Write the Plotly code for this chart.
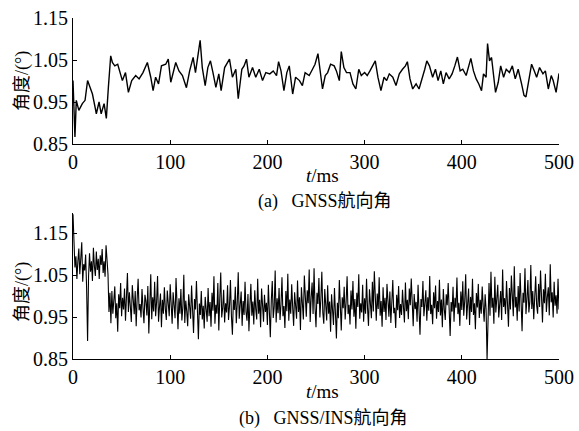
import numpy as np
import plotly.graph_objects as go

# ---------------- data ----------------
# (a) GNSS heading angle: time (ms) and angle (deg)
gnss_t = [0, 2, 3.4, 6, 9.6, 12.4, 15, 17, 20, 22.7, 24, 26.8, 29, 32, 34.3, 36.4, 38.8,
          40.5, 43, 46, 48, 50.8, 54, 57, 60.4, 64.5, 68, 72, 76.5, 80, 82.4, 85, 88, 91,
          95.4, 98, 100.6, 103, 105.7, 109, 112.6, 116.7, 120, 123.6, 126, 129, 130.8, 133,
          136, 138.7, 141.4, 144, 147, 150, 152.4, 156, 158.6, 161, 164, 167.5, 170, 173.7,
          176, 178.5, 181, 184.7, 188, 191.6, 195, 198.4, 202.5, 206, 209.4, 211.5, 214, 217,
          220, 222.5, 226, 229, 233, 236, 238.8, 243, 246.4, 249, 252, 254.6, 256.7, 259.5,
          262, 265, 268.7, 271, 274, 276, 278.7, 281.4, 285, 288, 291, 294, 296.6, 300, 302.7,
          305.5, 308, 311, 313.7, 316.8, 320, 322.7, 325.4, 329, 332.3, 335.7, 339, 342, 344,
          346.7, 349.5, 353, 356, 359.8, 361.9, 364, 366.7, 370, 372.9, 375.6, 378.4, 381,
          383.8, 387, 390, 392.8, 395.5, 398.3, 401, 404.5, 407.2, 409.3, 412, 414.8, 417.5,
          420.3, 422.3, 425, 426.5, 428.5, 430.6, 432.6, 434.7, 437.5, 440, 443, 445.7, 449,
          452, 455, 458, 461.5, 464, 466, 469, 471.8, 474.6, 477, 480, 483.5, 486, 489, 492,
          494, 497, 500]
gnss_angle = [1.001, 0.867, 0.954, 0.930, 0.946, 0.954, 1.001, 0.990, 0.969, 0.938, 0.922,
              0.950, 0.922, 0.946, 0.911, 0.985, 1.060, 1.044, 1.036, 1.040, 1.024, 1.001,
              1.020, 0.973, 1.001, 1.013, 1.005, 1.020, 1.044, 1.009, 0.977, 1.009, 0.993,
              1.036, 1.040, 1.052, 0.997, 1.020, 1.044, 1.024, 1.013, 0.984, 1.024, 1.056,
              1.020, 1.068, 1.097, 1.032, 0.989, 1.032, 1.048, 1.020, 0.985, 1.017, 0.977,
              1.032, 1.044, 1.052, 1.009, 1.028, 0.958, 1.028, 1.036, 1.052, 1.009, 1.032,
              1.009, 1.028, 1.001, 1.020, 1.017, 1.024, 1.013, 1.046, 1.024, 0.977, 1.020,
              1.036, 0.969, 1.009, 1.001, 0.989, 1.020, 1.013, 1.028, 1.040, 1.065, 1.017,
              0.981, 1.013, 1.020, 1.040, 1.036, 1.024, 1.001, 1.070, 1.032, 1.020, 1.020,
              0.993, 0.981, 1.028, 1.013, 1.020, 1.013, 1.024, 1.036, 1.048, 1.009, 0.977,
              1.009, 1.001, 1.017, 1.009, 0.989, 1.017, 1.028, 1.036, 1.046, 1.005, 0.981,
              0.993, 0.981, 1.009, 1.028, 1.048, 1.036, 1.009, 1.028, 1.001, 1.024, 0.993,
              1.020, 1.005, 1.017, 1.036, 1.057, 1.024, 1.028, 1.013, 1.036, 1.054, 1.024,
              1.005, 0.993, 0.977, 1.017, 1.009, 1.089, 1.048, 1.056, 1.009, 0.973, 0.997,
              1.036, 1.009, 1.028, 1.020, 1.036, 1.005, 1.028, 0.993, 0.966, 0.962, 1.001,
              1.040, 1.024, 1.009, 1.032, 1.017, 1.024, 0.981, 1.013, 1.001, 0.973, 1.018]

# (b) GNSS/INS heading angle, one sample per ms from 0 to 500 ms
ins_angle = [
    1.195, 1.142, 1.068, 1.095, 1.041, 1.082, 1.113, 1.052, 1.089, 1.128, 1.034, 1.076, 1.061, 1.099, 1.018, 0.893, 1.047, 1.102, 1.058, 1.083,
    1.036, 1.115, 1.071, 1.048, 1.106, 1.062, 1.089, 1.041, 1.097, 1.074, 1.112, 1.055, 1.083, 1.046, 1.121, 1.078, 1.052, 0.962, 1.008, 0.935,
    1.012, 0.958, 0.991, 1.023, 0.947, 0.983, 0.915, 1.004, 0.971, 1.031, 0.952, 0.996, 0.968, 1.018, 0.941, 0.987, 1.055, 0.962, 1.009, 0.975,
    0.938, 1.026, 0.984, 0.957, 1.012, 0.928, 0.993, 1.041, 0.966, 0.981, 0.949, 1.017, 0.972, 0.935, 1.003, 0.988, 0.954, 1.024, 0.911, 0.978,
    1.052, 0.945, 0.997, 0.963, 1.034, 0.952, 0.986, 1.048, 0.939, 0.975, 1.006, 0.926, 0.991, 0.958, 1.021, 0.969, 0.943, 1.013, 0.981, 0.952,
    1.028, 0.961, 0.934, 1.009, 0.976, 0.947, 1.043, 0.983, 0.921, 0.995, 0.958, 1.017, 0.942, 0.973, 1.051, 0.936, 0.989, 0.964, 0.928, 1.004,
    0.971, 0.946, 1.025, 0.957, 0.912, 0.993, 0.968, 1.036, 0.931, 0.897, 0.982, 0.955, 1.012, 0.944, 0.977, 0.923, 0.998, 0.961, 0.939, 1.019,
    0.952, 0.986, 0.927, 1.008, 0.965, 1.047, 0.934, 0.979, 0.958, 1.031, 0.918, 0.994, 1.056, 0.949, 0.972, 1.015, 0.937, 0.983, 0.961, 1.026,
    0.943, 0.976, 1.038, 0.952, 0.908, 0.991, 0.967, 1.022, 0.935, 0.984, 1.057, 0.946, 0.973, 1.011, 0.929, 0.988, 0.955, 1.034, 0.962, 0.941,
    1.005, 0.916, 0.978, 1.029, 0.953, 0.987, 0.932, 1.014, 0.969, 0.944, 1.041, 0.958, 0.991, 0.926, 1.018, 0.973, 0.939, 1.003, 0.962, 0.984,
    0.931, 1.027, 0.956, 0.902, 0.989, 1.036, 0.948, 0.974, 1.061, 0.937, 0.995, 0.959, 1.019, 0.943, 0.981, 1.045, 0.952, 0.976, 0.924, 1.012,
    0.964, 1.053, 0.941, 0.992, 0.958, 1.028, 0.973, 0.929, 1.009, 0.985, 0.946, 1.037, 0.962, 0.997, 0.919, 1.021, 0.968, 0.944, 1.049, 0.976,
    0.951, 1.014, 0.983, 1.063, 0.938, 0.996, 1.032, 0.957, 1.066, 0.972, 0.926, 1.008, 0.981, 1.043, 0.949, 0.993, 1.058, 0.961, 0.934, 1.017,
    0.975, 0.942, 1.026, 0.958, 0.987, 0.915, 1.004, 0.966, 0.931, 1.019, 0.953, 0.899, 0.984, 0.947, 1.038, 0.962, 0.918, 0.997, 0.971, 1.022,
    0.944, 0.986, 1.047, 0.957, 0.979, 0.932, 1.013, 0.968, 1.036, 0.951, 0.993, 0.922, 1.008, 0.974, 1.052, 0.946, 0.983, 0.961, 1.027, 0.939,
    0.995, 0.958, 1.041, 0.972, 0.929, 1.016, 0.984, 0.947, 1.034, 0.963, 1.059, 0.978, 0.941, 1.006, 0.969, 1.045, 0.953, 0.988, 0.927, 1.021,
    0.962, 0.996, 0.943, 1.029, 0.977, 0.951, 1.011, 0.936, 0.985, 1.038, 0.959, 0.972, 0.924, 1.003, 0.966, 1.024, 0.948, 0.981, 0.955, 1.015,
    0.973, 0.937, 1.032, 0.964, 0.991, 0.945, 1.018, 0.978, 1.042, 0.956, 0.928, 1.005, 0.969, 0.986, 0.939, 1.027, 0.961, 0.908, 0.993, 0.974,
    1.036, 0.952, 0.983, 1.014, 0.941, 0.997, 0.965, 1.048, 0.957, 0.979, 0.933, 1.009, 0.971, 1.025, 0.946, 0.988, 0.962, 1.039, 0.954, 0.992,
    0.926, 1.017, 0.968, 0.943, 1.004, 0.978, 1.031, 0.951, 0.905, 0.986, 0.963, 1.022, 0.939, 0.996, 0.972, 1.044, 0.957, 0.984, 0.929, 1.011,
    0.967, 1.035, 0.953, 0.989, 1.052, 0.944, 0.976, 1.018, 0.931, 0.998, 0.962, 1.041, 0.955, 0.983, 0.921, 1.007, 0.973, 1.029, 0.948, 0.991,
    0.958, 1.023, 0.976, 0.939, 1.004, 0.968, 0.849, 0.987, 1.031, 0.953, 1.058, 0.972, 0.996, 0.934, 1.046, 0.961, 0.985, 1.027, 0.949, 0.978,
    1.012, 0.943, 1.063, 0.974, 0.995, 0.957, 1.036, 0.982, 0.927, 1.019, 0.968, 1.049, 0.986, 0.952, 1.071, 0.973, 0.998, 0.941, 1.024, 0.963,
    1.055, 0.979, 0.916, 1.008, 0.984, 1.066, 0.957, 0.993, 1.038, 0.961, 0.987, 1.074, 0.969, 1.012, 0.945, 0.996, 1.047, 0.978, 0.958, 1.029,
    0.974, 1.061, 0.988, 0.937, 1.016, 0.983, 1.053, 0.962, 0.998, 1.021, 0.954, 1.076, 0.985, 1.009, 0.949, 1.034, 0.977, 1.002, 0.958, 1.041,
    0.968]
ins_t = np.linspace(0, 500, len(ins_angle))

x_ticks = [0, 100, 200, 300, 400, 500]
y_ticks = [0.85, 0.95, 1.05, 1.15]
y_label = "角度/(°)"
x_label = "<i>t</i>/ms"
caption_a = "(a)   GNSS航向角"
caption_b = "(b)   GNSS/INS航向角"

# ---------------- figure ----------------
FONT = "Liberation Serif, Times New Roman, Noto Sans CJK SC"
fig = go.Figure()
fig.add_trace(go.Scatter(x=gnss_t, y=gnss_angle, mode="lines",
                         line=dict(color="black", width=1.4), xaxis="x", yaxis="y",
                         showlegend=False))
fig.add_trace(go.Scatter(x=ins_t, y=ins_angle, mode="lines",
                         line=dict(color="black", width=1.1), xaxis="x2", yaxis="y2",
                         showlegend=False))

axis_common = dict(showline=True, linecolor="black", linewidth=1, ticks="inside",
                   ticklen=4, tickcolor="black", showgrid=False, zeroline=False,
                   automargin=False,
                   tickfont=dict(family=FONT, size=20, color="black"), mirror=False)

fig.update_layout(
    width=579, height=431,
    margin=dict(l=73, r=20, t=18, b=72),
    paper_bgcolor="white", plot_bgcolor="white",
    font=dict(family=FONT, color="black"),
    xaxis=dict(domain=[0, 1], range=[0, 500], tickvals=x_ticks, anchor="y", **axis_common),
    yaxis=dict(domain=[0.6305, 1], range=[0.85, 1.15], tickvals=y_ticks, tickformat=".2f",
               anchor="x", **axis_common),
    xaxis2=dict(domain=[0, 1], range=[0, 500], tickvals=x_ticks, anchor="y2", **axis_common),
    yaxis2=dict(domain=[0, 0.4282], range=[0.85, 1.198], tickvals=y_ticks, tickformat=".2f",
                anchor="x2", **axis_common),
)

def ann(text, x, y, size, angle=0):
    fig.add_annotation(text=text, x=x, y=y, xref="paper", yref="paper", showarrow=False,
                       font=dict(family=FONT, size=size, color="black"), textangle=angle,
                       xanchor="center", yanchor="middle")

# page px -> paper coords: x = (px-73)/486, y = 1 - (py-18)/341
ann(y_label, (22 - 73) / 486, 1 - (81 - 18) / 341, 18, -90)
ann(y_label, (22 - 73) / 486, 1 - (292 - 18) / 341, 18, -90)
ann(x_label, (322 - 73) / 486, 1 - (175 - 18) / 341, 19)
ann(x_label, (322 - 73) / 486, 1 - (392 - 18) / 341, 19)
ann(caption_a, (325 - 73) / 486, 1 - (201 - 18) / 341, 18)
ann(caption_b, (323 - 73) / 486, 1 - (418 - 18) / 341, 18)

# remove the browser's default body margin so the figure fills the window
fig.write_html("out.html", config={"displayModeBar": False},
               post_script="document.body.style.margin='0';document.body.style.overflow='hidden';")
